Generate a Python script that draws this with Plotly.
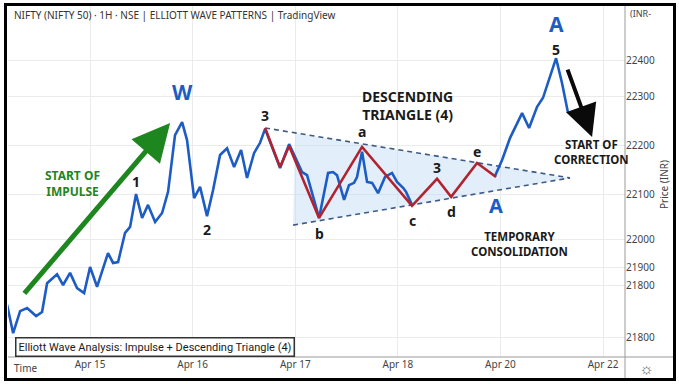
import plotly.graph_objects as go

# ---------------- data ----------------
tick_days = [0, 1, 2, 3, 4, 5]
tick_dates = ["Apr 15", "Apr 16", "Apr 17", "Apr 18", "Apr 20", "Apr 22"]
price_ticks = [22400, 22318, 22209, 22102, 22002, 21940, 21900, 21784]
price_tick_text = ["22400", "22300", "22200", "22100", "22000", "21900", "21800", "21800"]

# price path (x in trading-day units from Apr 15)
price_x = [-0.809, -0.750, -0.682, -0.614, -0.526, -0.468, -0.419, -0.322, -0.263, -0.195,
           -0.127, -0.058, 0.000, 0.068, 0.175, 0.224, 0.273, 0.341, 0.390, 0.448,
           0.507, 0.565, 0.634, 0.702, 0.760, 0.828, 0.897, 0.945, 1.014, 1.072,
           1.140, 1.199, 1.267, 1.335, 1.404, 1.472, 1.530, 1.598, 1.657, 1.706,
           1.852, 1.940, 2.066, 2.115, 2.232, 2.290, 2.320, 2.368, 2.407, 2.476,
           2.524, 2.573, 2.602, 2.651, 2.700, 2.749, 2.807, 2.875, 2.943, 2.992,
           3.051, 3.080, 3.138]
price_y = [21856, 21793, 21842, 21849, 21831, 21840, 21904, 21924, 21900, 21927,
           21893, 21882, 21940, 21896, 21971, 21949, 21951, 22016, 22029, 22102,
           22049, 22078, 22040, 22060, 22107, 22233, 22262, 22222, 22093, 22118,
           22053, 22111, 22189, 22204, 22162, 22200, 22138, 22193, 22216, 22247,
           22160, 22213, 22151, 22144, 22049, 22118, 22149, 22151, 22144, 22089,
           22122, 22127, 22140, 22196, 22129, 22127, 22104, 22140, 22149, 22129,
           22116, 22107, 22078]
breakout_x = [3.947, 4.016, 4.094, 4.211, 4.279, 4.357, 4.415, 4.542, 4.600, 4.659]
breakout_y = [22142, 22178, 22227, 22282, 22249, 22296, 22316, 22404, 22349, 22282]

# Elliott wave (triangle) path
wave_x = [1.706, 1.852, 1.940, 2.232, 2.651, 3.138, 3.382, 3.519, 3.772, 3.957]
wave_y = [22249, 22162, 22209, 22049, 22207, 22076, 22136, 22096, 22171, 22140]

# triangle boundaries
tri_upper_x = [1.706, 4.678]
tri_upper_y = [22249, 22138]
tri_lower_x = [1.979, 4.678]
tri_lower_y = [22033, 22138]
tri_fill_x = [1.998, 4.678, 1.979, 1.998]
tri_fill_y = [22238, 22138, 22033, 22238]

# ---------------- helpers (pixel -> paper) ----------------
W, H = 679, 384
L, R, T, B = 8, 625, 6, 357


def px(x):
    return (x - L) / (R - L)


def py(y):
    return (B - y) / (B - T)


BLUE = "#1d5cc4"
RED = "#b0232f"
DARK = "#1a1a1a"
FONT = "Noto Sans"

fig = go.Figure()

fig.add_trace(go.Scatter(x=tri_fill_x, y=tri_fill_y, mode="lines", fill="toself",
                         fillcolor="rgba(190,220,245,0.45)", line=dict(width=0),
                         hoverinfo="skip", showlegend=False))
fig.add_trace(go.Scatter(x=tri_upper_x, y=tri_upper_y, mode="lines",
                         line=dict(color="#3d5a86", width=1.6, dash="5px,4px"), showlegend=False))
fig.add_trace(go.Scatter(x=tri_lower_x, y=tri_lower_y, mode="lines",
                         line=dict(color="#3d5a86", width=1.6, dash="5px,4px"), showlegend=False))
fig.add_trace(go.Scatter(x=price_x, y=price_y, mode="lines",
                         line=dict(color=BLUE, width=2.6), showlegend=False))
fig.add_trace(go.Scatter(x=breakout_x, y=breakout_y, mode="lines",
                         line=dict(color=BLUE, width=2.6), showlegend=False))
fig.add_trace(go.Scatter(x=wave_x, y=wave_y, mode="lines",
                         line=dict(color=RED, width=2.6), showlegend=False))

ann = []


def wave_label(x, y, text, shift, size=15, color=DARK, **kw):
    ann.append(dict(x=x, y=y, xref="x", yref="y", text="<b>%s</b>" % text, showarrow=False,
                    yshift=shift, font=dict(family=FONT, size=size, color=color), **kw))


wave_label(price_x[19], price_y[19], "1", 13, size=14)
wave_label(price_x[26], price_y[26], "W", 30, size=21, color=BLUE)
wave_label(price_x[30], price_y[30], "2", -13, size=14)
wave_label(wave_x[0], wave_y[0], "3", 12, size=14)
wave_label(wave_x[4], wave_y[4], "a", 15, size=14)
wave_label(wave_x[3], wave_y[3], "b", -16, size=14)
wave_label(wave_x[5], wave_y[5], "c", -15, size=14)
wave_label(wave_x[6], wave_y[6], "3", 11, size=14)
wave_label(wave_x[7], wave_y[7], "d", -15, size=14)
wave_label(wave_x[8], wave_y[8], "e", 12, size=14)
wave_label(wave_x[9], wave_y[9], "A", -28, size=20, color=BLUE)
wave_label(breakout_x[7], breakout_y[7], "5", 9, size=14)
wave_label(breakout_x[7], breakout_y[7], "A", 34, size=21, color=BLUE)

# arrows
ann.append(dict(x=0.780, y=22260, ax=-0.653, ay=21878, xref="x", yref="y", axref="x", ayref="y",
                text="", showarrow=True, arrowhead=2, arrowsize=1.5, arrowwidth=5,
                arrowcolor="#1e861e"))
ann.append(dict(x=4.893, y=22229, ax=4.649, ay=22382, xref="x", yref="y", axref="x", ayref="y",
                text="", showarrow=True, arrowhead=2, arrowsize=1.6, arrowwidth=4,
                arrowcolor="#0a0a0a"))


def text_px(x, y, text, size=12, color=DARK, anchor="center", family=FONT, **kw):
    ann.append(dict(x=px(x), y=py(y), xref="paper", yref="paper", text=text, showarrow=False,
                    xanchor=anchor, yanchor="middle",
                    font=dict(family=family, size=size, color=color), **kw))


text_px(72, 183, "<b>START OF<br>IMPULSE</b>", 12, "#1e861e")
text_px(407, 105, "<b>DESCENDING<br>TRIANGLE (4)</b>", 14)
text_px(519, 244, "<b>TEMPORARY<br>CONSOLIDATION</b>", 11.5)
text_px(591, 152, "<b>START OF<br>CORRECTION</b>", 11.5)

# header and frame texts
text_px(12, 15, "NIFTY (NIFTY 50) · 1H · NSE | ELLIOTT WAVE PATTERNS | TradingView", 10,
        "#333333", anchor="left")
text_px(628, 14, "(INR-", 9, "#444444", anchor="left")
text_px(664, 185, "Price (INR)", 10, "#444444", textangle=-90)
text_px(12, 368, "Time", 10, "#444444", anchor="left")
text_px(646, 368, "☼", 16, "#666666")
ann.append(dict(x=px(15), y=py(357), xref="paper", yref="paper", xanchor="left", yanchor="bottom",
                text="Elliott Wave Analysis: Impulse + Descending Triangle (4)", showarrow=False,
                bgcolor="white", bordercolor="#333333", borderwidth=1.5, borderpad=2,
                font=dict(family="Roboto", size=11, color=DARK)))

shapes = [
    dict(type="line", xref="paper", yref="paper", x0=px(L), x1=px(674), y0=0, y1=0,
         line=dict(color="#9a9a9a", width=1)),
    dict(type="line", xref="paper", yref="paper", x0=1, x1=1, y0=py(T), y1=py(379),
         line=dict(color="#9a9a9a", width=1)),
    dict(type="rect", xref="paper", yref="paper", x0=px(5.5), x1=px(674.5), y0=py(379.5), y1=py(4.5),
         line=dict(color="#000000", width=3)),
]

fig.update_layout(
    width=W, height=H,
    margin=dict(l=L, r=W - R, t=T, b=H - B),
    plot_bgcolor="white", paper_bgcolor="white",
    showlegend=False,
    annotations=ann, shapes=shapes,
    xaxis=dict(range=[-0.80, 5.214], tickvals=tick_days, ticktext=tick_dates,
               showgrid=True, gridcolor="#ebebeb", zeroline=False, ticks="",
               tickfont=dict(family=FONT, size=10, color="#444444"), fixedrange=True),
    yaxis=dict(range=[21740, 22520], side="right", tickvals=price_ticks, ticktext=price_tick_text,
               showgrid=True, gridcolor="#ebebeb", zeroline=False, ticks="",
               tickfont=dict(family=FONT, size=10, color="#444444"), fixedrange=True),
)

fig.write_html("out.html", config={"displayModeBar": False},
               post_script="document.body.style.margin='0px';")
